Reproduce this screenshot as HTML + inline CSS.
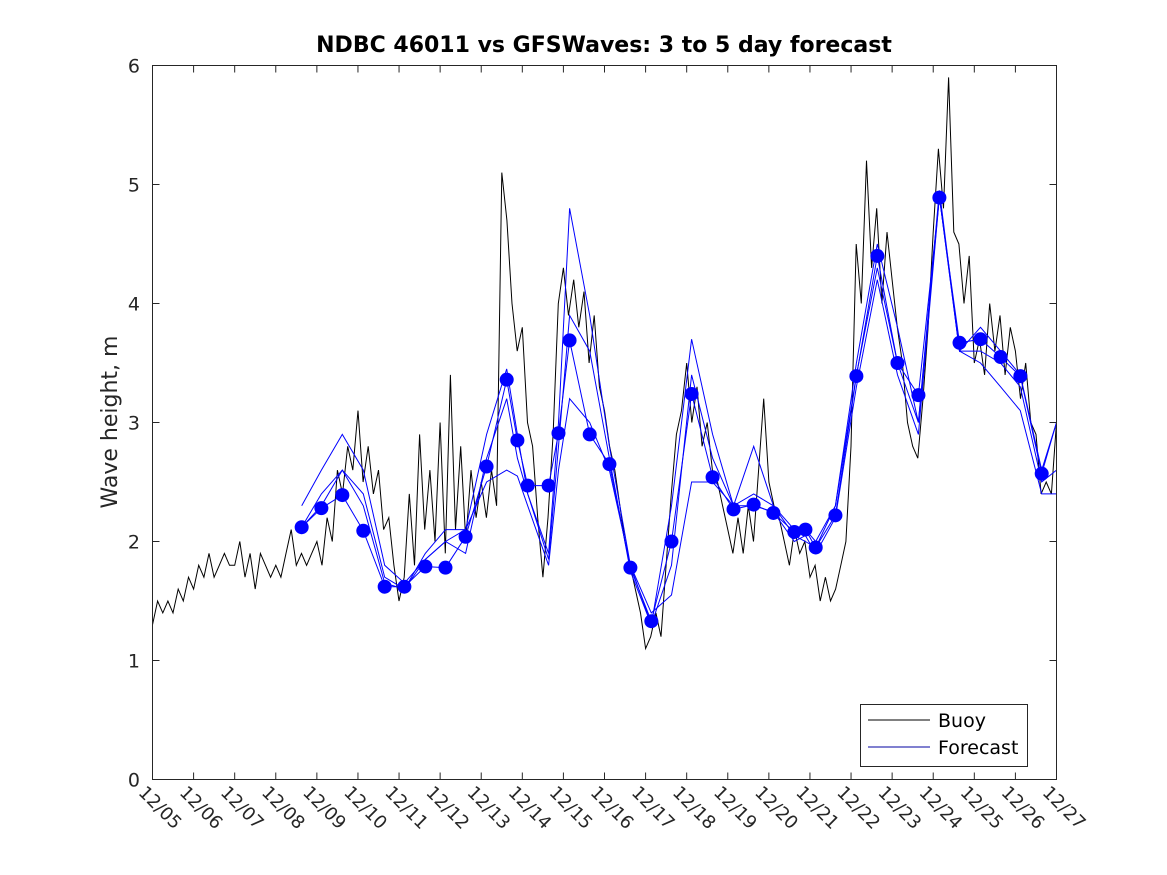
<!DOCTYPE html>
<html><head><meta charset="utf-8"><style>
body{margin:0;background:#fff}
svg{display:block;font-family:"DejaVu Sans","Liberation Sans",sans-serif}
</style></head><body>
<svg id="chart" width="1167" height="875" xmlns="http://www.w3.org/2000/svg">
<rect width="1167" height="875" fill="#fff"/>
<text x="604" y="52" text-anchor="middle" font-size="22" font-weight="bold">NDBC 46011 vs GFSWaves: 3 to 5 day forecast</text>
<text transform="translate(117,422) rotate(-90)" text-anchor="middle" font-size="22" fill="#262626">Wave height, m</text>
<g id="plot"></g>
<rect x="152.5" y="65.5" width="904" height="714" fill="none" stroke="#262626" stroke-width="1"/>
<g>
<rect x="860.5" y="704.5" width="167" height="62" fill="#fff" stroke="#262626"/>
<line x1="868" y1="720" x2="930" y2="720" stroke="#000"/>
<text x="938" y="727" font-size="19" fill="#000">Buoy</text>
<line x1="868" y1="747" x2="930" y2="747" stroke="#0000a0"/>
<text x="938" y="754" font-size="19" fill="#000">Forecast</text>
</g>
</svg>
<script>
const yTicks=[0,1,2,3,4,5,6];
const xTickLabels=["12/05","12/06","12/07","12/08","12/09","12/10","12/11","12/12","12/13","12/14","12/15","12/16","12/17","12/18","12/19","12/20","12/21","12/22","12/23","12/24","12/25","12/26","12/27"];
const buoyStep=1/8;
const buoyHeight=[
1.3,1.5,1.4,1.5,1.4,1.6,1.5,1.7,
1.6,1.8,1.7,1.9,1.7,1.8,1.9,1.8,
1.8,2.0,1.7,1.9,1.6,1.9,1.8,1.7,
1.8,1.7,1.9,2.1,1.8,1.9,1.8,1.9,
2.0,1.8,2.2,2.0,2.6,2.4,2.8,2.6,
3.1,2.5,2.8,2.4,2.6,2.1,2.2,1.8,
1.5,1.7,2.4,1.8,2.9,2.1,2.6,2.0,
3.0,1.9,3.4,2.1,2.8,2.0,2.6,2.2,
2.5,2.2,2.6,2.3,5.1,4.7,4.0,3.6,
3.8,3.0,2.8,2.2,1.7,2.2,2.9,4.0,
4.3,3.9,4.2,3.8,4.1,3.5,3.9,3.3,
3.1,2.8,2.6,2.3,2.0,1.8,1.6,1.4,
1.1,1.2,1.4,1.2,1.8,2.4,2.9,3.1,
3.5,3.0,3.3,2.8,3.0,2.6,2.5,2.3,
2.1,1.9,2.2,1.9,2.3,2.0,2.6,3.2,
2.5,2.3,2.2,2.0,1.8,2.1,1.9,2.0,
1.7,1.8,1.5,1.7,1.5,1.6,1.8,2.0,
2.8,4.5,4.0,5.2,4.3,4.8,4.0,4.6,
4.2,3.8,3.5,3.0,2.8,2.7,3.2,3.8,
4.6,5.3,4.8,5.9,4.6,4.5,4.0,4.4,
3.5,3.7,3.4,4.0,3.6,3.9,3.4,3.8,
3.6,3.2,3.5,3.0,2.9,2.4,2.5,2.4,
3.0];
const fcTimes=[3.63,4.11,4.62,5.13,5.65,6.13,6.64,7.13,7.62,8.13,8.62,8.88,9.13,9.64,9.88,10.15,10.64,11.12,11.63,12.14,12.63,13.12,13.63,14.14,14.63,15.11,15.62,15.89,16.14,16.62,17.13,17.64,18.13,18.64,19.15,19.64,20.15,20.64,21.12,21.64,22];
const dotHeight=[2.12,2.28,2.39,2.09,1.62,1.62,1.79,1.78,2.04,2.63,3.36,2.85,2.47,2.47,2.91,3.69,2.90,2.65,1.78,1.33,2.00,3.24,2.54,2.27,2.31,2.24,2.08,2.10,1.95,2.22,3.39,4.40,3.50,3.23,4.89,3.67,3.70,3.55,3.39,2.57];
const runA=[2.12,2.28,2.39,2.09,1.62,1.62,1.79,1.78,2.04,2.63,3.36,2.85,2.47,2.47,2.91,3.69,2.90,2.65,1.78,1.33,2.00,3.24,2.54,2.27,2.31,2.24,2.08,2.10,1.95,2.22,3.39,4.40,3.50,3.23,4.89,3.67,3.70,3.55,3.39,2.57,3.0];
const runB=[2.3,2.6,2.9,2.6,1.8,1.65,1.85,2.0,2.1,2.9,3.45,2.9,2.4,1.9,3.0,4.8,3.9,2.8,1.8,1.3,2.3,3.7,2.9,2.3,2.8,2.3,2.1,2.1,2.0,2.3,3.5,4.5,3.8,3.0,4.95,3.6,3.8,3.6,3.4,2.6,3.0];
const runC=[2.12,2.3,2.6,2.3,1.65,1.6,1.9,2.1,2.1,2.5,2.6,2.55,2.3,1.8,2.6,3.2,3.0,2.6,1.8,1.4,1.55,2.5,2.5,2.3,2.3,2.25,2.0,2.05,1.9,2.2,3.3,4.2,3.4,2.9,4.9,3.6,3.5,3.3,3.1,2.4,2.4];
const runD=[2.12,2.4,2.6,2.4,1.7,1.6,1.85,2.0,1.9,2.7,3.2,2.7,2.4,1.85,2.8,3.9,3.6,2.7,1.75,1.3,1.8,3.4,2.7,2.3,2.4,2.3,2.05,2.0,1.95,2.3,3.4,4.3,3.5,3.0,4.9,3.6,3.6,3.5,3.3,2.5,2.6];

const X0=152.5,X1=1056.5,Y0=779.5,Y1=65.5;
const xs=d=>X0+(X1-X0)*d/22;
const ys=v=>Y0-(Y0-Y1)*v/6;
const NS="http://www.w3.org/2000/svg";
const g=document.getElementById('plot');
function mk(t,a){const e=document.createElementNS(NS,t);for(const k in a)e.setAttribute(k,a[k]);return e;}
yTicks.forEach(v=>{
 const y=ys(v);
 const l=mk('path',{d:`M${X0} ${y}h7M${X1} ${y}h-7`,stroke:'#262626'});
 
 
 g.appendChild(l);
 const t=mk('text',{x:140,y:y+7,'text-anchor':'end','font-size':19,fill:'#262626'});
 
 
 t.textContent=v;g.appendChild(t);
});
xTickLabels.forEach((s,i)=>{
 const x=xs(i);
 const l=mk('path',{d:`M${x} ${Y0}v-7M${x} ${Y1}v7`,stroke:'#262626'});
 
 
 g.appendChild(l);
 const t=mk('text',{transform:`translate(${x-15},${Y0+14}) rotate(45)`,'font-size':18,fill:'#262626'});
 
 
 t.textContent=s;g.appendChild(t);
});
const bp=buoyHeight.map((v,i)=>`${xs(i*buoyStep).toFixed(1)},${ys(v).toFixed(1)}`).join(' ');
const bl=mk('polyline',{points:bp,fill:'none',stroke:'#000','stroke-width':1});


g.appendChild(bl);
[runA,runB,runC,runD].forEach(r=>{
 const p=r.map((v,i)=>`${xs(fcTimes[i]).toFixed(1)},${ys(v).toFixed(1)}`).join(' ');
 const l=mk('polyline',{points:p,fill:'none',stroke:'#0000ff','stroke-width':1});
 
 
 g.appendChild(l);
});
dotHeight.forEach((v,i)=>{
 const c=mk('circle',{cx:xs(fcTimes[i]),cy:ys(v),r:7,fill:'#0000ff'});
 
 
 g.appendChild(c);
});
</script>
</body></html>
